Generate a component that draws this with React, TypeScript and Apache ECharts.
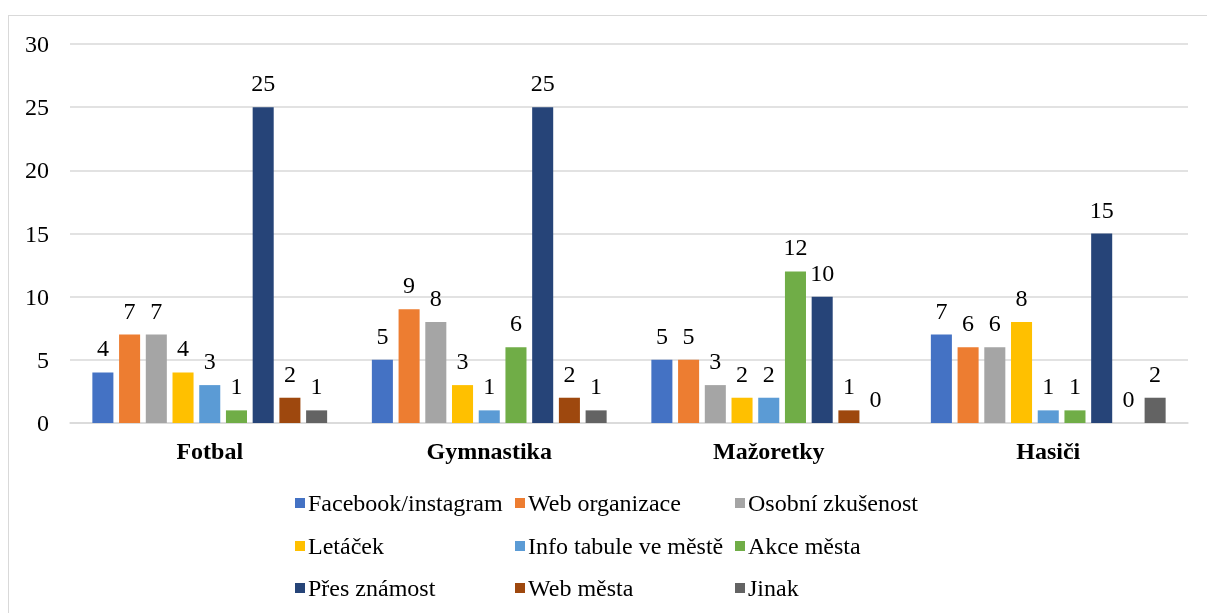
import React, { useEffect, useRef } from "react";
import * as echarts from "echarts";

const categories = ["Fotbal", "Gymnastika", "Mažoretky", "Hasiči"];
const seriesNames = [
  "Facebook/instagram",
  "Web organizace",
  "Osobní zkušenost",
  "Letáček",
  "Info tabule ve městě",
  "Akce města",
  "Přes známost",
  "Web města",
  "Jinak",
];
const facebook = [4, 5, 5, 7];
const webOrganizace = [7, 9, 5, 6];
const osobni = [7, 8, 3, 6];
const letacek = [4, 3, 2, 8];
const infoTabule = [3, 1, 2, 1];
const akceMesta = [1, 6, 12, 1];
const presZnamost = [25, 25, 10, 15];
const webMesta = [2, 2, 1, 0];
const jinak = [1, 1, 0, 2];
const seriesValues = [facebook, webOrganizace, osobni, letacek, infoTabule, akceMesta, presZnamost, webMesta, jinak];
const colors = ["#4472C4", "#ED7D31", "#A5A5A5", "#FFC000", "#5B9BD5", "#70AD47", "#264478", "#9E480E", "#636363"];
const yTicks = { min: 0, max: 30, interval: 5 };

const FONT = "Liberation Serif";

export default function App() {
  const ref = useRef<HTMLDivElement>(null);
  useEffect(() => {
    if (!ref.current) return;
    const chart = echarts.init(ref.current, undefined, { renderer: "svg" });
    const colLeft = [290, 510, 730];
    const rowTop = [486, 529, 571];
    const legends = seriesNames.map((name, i) => ({
      data: [name],
      left: colLeft[i % 3],
      top: rowTop[Math.floor(i / 3)],
      itemWidth: 10,
      itemHeight: 10,
      icon: "rect",
      selectedMode: false,
      textStyle: { fontFamily: FONT, fontSize: 24, color: "#000", padding: [0, 0, 0, -2] },
    }));
    chart.setOption({
      animation: false,
      textStyle: { fontFamily: FONT },
      grid: { left: 70, right: 19, top: 44, bottom: 190, containLabel: false },
      legend: legends,
      xAxis: {
        type: "category",
        data: categories,
        axisTick: { show: false },
        axisLine: { lineStyle: { color: "#d9d9d9", width: 1.5 } },
        axisLabel: { fontFamily: FONT, fontSize: 24, fontWeight: "bold", color: "#000", margin: 16 },
      },
      yAxis: {
        type: "value",
        min: yTicks.min,
        max: yTicks.max,
        interval: yTicks.interval,
        axisLine: { show: false },
        axisTick: { show: false },
        splitLine: { lineStyle: { color: "#d9d9d9", width: 1.5 } },
        axisLabel: { fontFamily: FONT, fontSize: 24, color: "#000", margin: 21 },
      },
      series: seriesNames.map((name, i) => ({
        name,
        type: "bar",
        data: seriesValues[i],
        barGap: "27%",
        barCategoryGap: "16%",
        itemStyle: { color: colors[i] },
        label: {
          show: true,
          position: "top",
          distance: 12,
          fontFamily: FONT,
          fontSize: 24,
          color: "#000",
        },
      })),
    });
    return () => chart.dispose();
  }, []);
  return (
    <div>
      <div
        style={{
          position: "fixed",
          left: 8,
          top: 15,
          width: 1260,
          height: 660,
          border: "1.5px solid #d9d9d9",
          boxSizing: "border-box",
        }}
      />
      <div ref={ref} style={{ position: "fixed", left: 0, top: 0, width: 1207, height: 613 }} />
    </div>
  );
}
